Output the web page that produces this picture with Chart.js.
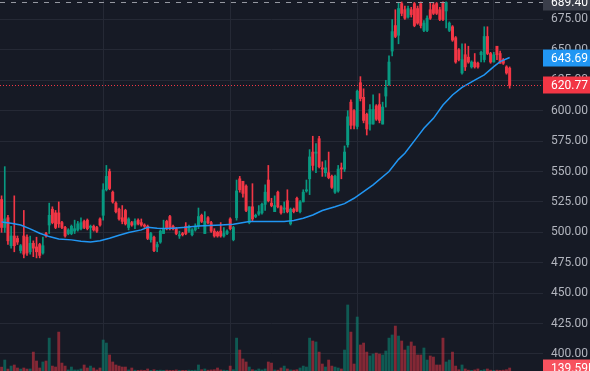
<!DOCTYPE html>
<html>
<head>
<meta charset="utf-8">
<script src="https://cdn.jsdelivr.net/npm/chart.js@4.4.1/dist/chart.umd.min.js"></script>
<style>
html, body { margin: 0; padding: 0; background: #161a25; }
#wrap { width: 590px; height: 371px; position: relative; }
</style>
</head>
<body>
<div id="wrap"><canvas id="c"></canvas></div>
<script>
Chart.defaults.font.family = "Roboto, 'Liberation Sans', sans-serif";
Chart.defaults.color = "#b2b5be";

const UP = "#089981", DOWN = "#f23645";
const UP_VOL = "rgba(8,153,129,0.5)", DOWN_VOL = "rgba(242,54,69,0.5)";
const BG = "#161a25", GRID = "#252935";

// daily candles
const opens = [
  527,504,512,489,497,495,485,497,496,484,491,488,490,483,499,506,519,516,516,508,504,499,
  499,501,502,503,509,510,504,505,504,511,514,535,550,533,524,519,512,518,504,508,506,510,508,506,505,494,496,488,492,499,509,513,505,503,497,499,505,501,498,502,505,
  514,499,512,508,501,500,501,497,499,511,494,512,544,542,538,508,521,513,515,516,523,543,524,517,533,521,519,526,507,519,528,517,525,534,544,566,565,577,553,549,549,546,533,534,553,552,572,
  607,600,587,623,611,597,589,589,604,605,589,612,621,649,670,
  662,688,683,677,683,688,684,688,666,666,683,687,688,683,689,682,666,669,660,650,631,646,644,636,640,639,646,642,661,647,640,653,647,642,636,635
];
const highs = [
  530,554,514,505,530,497,490,518,498,497,493,496,491,496,500,524,521,518,525,509,505,503,
  506,510,509,512,510,511,506,506,505,512,540,555,552,534,525,520,522,519,512,509,511,511,511,507,506,500,497,492,502,510,510,514,506,504,501,500,508,506,503,507,520,
  515,517,513,509,503,501,508,504,502,512,505,543,546,542,539,521,540,515,522,524,539,555,528,530,534,522,525,535,520,520,529,526,535,543,568,579,573,579,558,559,566,547,547,555,557,571,600,
  609,601,617,628,618,598,605,613,605,614,607,625,645,675,683,
  689,689.4,686,686,685,689,686,689.4,674,678,689,689,689,685,689.4,689.4,673,670,661,651,655,655,653,641,647,640,649,669,669,648,648,653,649,643,637,636
];
const lows = [
  500,500,490,487,484,490,483,479,481,482,480,479,479,482,496,499,507,503,504,503,496,498,
  498,499,501,502,503,502,495,501,500,505,510,534,535,524,516,510,507,506,502,505,503,506,505,504,494,492,484,484,491,499,502,502,502,498,495,497,498,500,497,501,503,
  508,499,507,500,496,496,496,496,498,502,493,510,533,529,517,507,509,512,514,515,518,525,521,517,520,515,516,516,506,516,517,516,525,533,531,551,549,553,546,546,544,536,532,533,544,550,570,
  585,585,585,608,590,580,584,589,592,590,589,603,621,645,660,
  655,678,675,676,677,669,671,668,665,665,675,679,679,674,674,668,665,657,639,641,630,633,639,635,635,635,640,640,646,639,640,642,639,638,630,618.5
];
const closes = [
  504,511,493,497,489,492,489,482,483,491,487,484,481,489,497,514,508,504,507,504,497,502,
  505,503,507,508,504,503,505,502,501,506,535,546,536,525,517,511,509,507,511,506,509,507,506,505,495,499,485,490,501,503,503,503,503,499,498,498,499,505,502,505,513,
  509,509,508,501,497,497,497,499,501,503,504,534,535,532,518,521,511,514,517,523,533,526,522,522,521,516,520,517,519,517,518,525,533,535,562,555,566,554,552,553,545,537,546,552,552,566,595,
  588,588,616,610,592,585,601,601,593,592,603,619,640,665,661,
  684,680,676,684,679,670,672,670,672,676,676,680,680,675,675,689,672,658,640,642,642,636,640,640,636,636,648,661,647,640,646,646,639,639,631,620.77
];
// volume in thousands
const volumes = [
  180,510,90,230,280,140,90,140,90,95,880,465,140,420,465,1530,230,185,1810,370,230,50,
  185,50,50,95,280,140,230,140,50,140,1440,1300,745,420,280,230,185,185,50,140,40,30,40,30,95,30,60,30,40,30,40,30,30,50,30,30,30,40,30,40,280,
  60,95,40,50,60,140,50,40,30,230,60,1530,975,560,420,185,60,40,95,50,95,420,370,50,40,140,230,95,50,40,60,140,230,185,1530,1395,1350,880,325,185,510,230,185,140,95,975,3070,
  1810,325,2510,1210,1300,880,700,790,835,790,745,930,1530,1675,2090,
  1625,1395,975,1160,1350,1160,745,745,1070,510,700,650,280,280,1530,420,510,880,230,60,280,95,40,30,50,95,30,60,95,40,30,40,30,40,60,139.59
];
// moving average, read at a few candles
const maIndex = [0,3,6,9,12,15,18,22,25,28,31,34,37,40,44,46,49,52,55,58,62,69,73,78,84,89,92,95,98,101,105,108,111,114,117,122,125,127,131,133,136,139,142,145,149,152,155,157,160];
const maValue = [508.5,507.5,506,502.8,499.3,496.5,494.6,493.8,492.7,492.1,493,495.2,497.6,499.8,502,504.2,503.4,503.1,503.6,504.2,505.3,506.1,506.7,508.9,508.9,509,509.7,511.6,514.3,517.9,521,523.6,528,533.5,539,550,560,565,578.7,585.5,593.7,604.7,612.9,619.2,625.2,629.4,636.2,640.3,643.69];

const priceTicks = [400,425,450,475,500,525,550,575,600,625,650,675];
const monthLines = [32, 72, 112, 155];
const SLOTS = 171;
const highPrice = 689.40, lastPrice = 620.77, maLast = 643.69;
const lastVolume = 139.59, lastVolumeText = "139.59K";

const labels = Array.from({ length: SLOTS }, (_, i) => String(i));
const isUp = closes.map((c, i) => c >= opens[i]);
const bodies = opens.map((o, i) => [o, closes[i]]);
const wicks = lows.map((l, i) => [l, highs[i]]);
const maLine = labels.map(() => null);
maIndex.forEach((k, j) => { maLine[k] = maValue[j]; });

function noPad(s) {
  s.paddingTop = 0; s.paddingBottom = 0; s.paddingLeft = 0; s.paddingRight = 0;
}

function tag(ctx, chart, yPix, text, bg, fg) {
  const left = chart.chartArea.right;
  ctx.fillStyle = bg;
  ctx.fillRect(left, Math.round(yPix) - 8.5, chart.width - left, 17);
  ctx.fillStyle = fg;
  ctx.font = "12px Roboto, 'Liberation Sans', sans-serif";
  ctx.textBaseline = "middle";
  ctx.textAlign = "left";
  ctx.fillText(text, left + 8, Math.round(yPix) + 0.5);
}

const overlay = {
  id: "overlay",
  beforeDraw(chart) {
    const { ctx, width, height } = chart;
    ctx.save();
    ctx.fillStyle = BG;
    ctx.fillRect(0, 0, width, height);
    ctx.restore();
  },
  afterDatasetsDraw(chart) {
    const { ctx, chartArea: a, scales: { y } } = chart;
    ctx.save();
    ctx.lineWidth = 1;
    // session high
    let py = Math.round(y.getPixelForValue(highPrice)) + 0.5;
    ctx.strokeStyle = "#9598a1";
    ctx.setLineDash([5, 6]);
    ctx.beginPath(); ctx.moveTo(a.left, py); ctx.lineTo(a.right, py); ctx.stroke();
    // last price
    py = Math.round(y.getPixelForValue(lastPrice)) + 0.5;
    ctx.strokeStyle = DOWN;
    ctx.setLineDash([1, 2]);
    ctx.beginPath(); ctx.moveTo(a.left, py); ctx.lineTo(a.right, py); ctx.stroke();
    ctx.restore();
  },
  afterDraw(chart) {
    const { ctx, scales: { y, vol } } = chart;
    ctx.save();
    tag(ctx, chart, y.getPixelForValue(highPrice), highPrice.toFixed(2), "#3a3e4a", "#ffffff");
    tag(ctx, chart, y.getPixelForValue(maLast), maLast.toFixed(2), "#2196f3", "#ffffff");
    tag(ctx, chart, y.getPixelForValue(lastPrice), lastPrice.toFixed(2), DOWN, "#ffffff");
    tag(ctx, chart, vol.getPixelForValue(lastVolume), lastVolumeText, "#f7525f", "#ffffff");
    ctx.restore();
  },
};

new Chart(document.getElementById("c"), {
  type: "bar",
  data: {
    labels,
    datasets: [
      { type: "line", label: "MA", data: maLine, borderColor: "#2196f3", borderWidth: 1.5, pointRadius: 0, spanGaps: true, tension: 0, yAxisID: "y", order: 0 },
      { label: "body", data: bodies, backgroundColor: isUp.map((u) => u ? UP : DOWN), barThickness: 2.3, minBarLength: 1, grouped: false, yAxisID: "y", order: 1 },
      { label: "wick", data: wicks, backgroundColor: isUp.map((u) => u ? UP : DOWN), barThickness: 1, grouped: false, yAxisID: "y", order: 2 },
      { label: "volume", data: volumes, backgroundColor: isUp.map((u) => u ? UP_VOL : DOWN_VOL), barThickness: 2.2, grouped: false, yAxisID: "vol", order: 3 },
    ],
  },
  options: {
    responsive: true, maintainAspectRatio: false, animation: false,
    layout: { padding: 0 },
    plugins: { legend: { display: false }, tooltip: { enabled: false } },
    scales: {
      x: {
        type: "category", offset: true,
        afterFit: (s) => { s.height = 0; noPad(s); },
        grid: { offset: false, drawTicks: false, color: (c) => monthLines.includes(c.index) ? GRID : "rgba(0,0,0,0)" },
        border: { display: false },
        ticks: { display: false, autoSkip: false },
      },
      y: {
        position: "right", min: 386, max: 691,
        afterBuildTicks: (s) => { s.ticks = priceTicks.map((v) => ({ value: v })); },
        afterFit: (s) => { s.width = 47; noPad(s); },
        grid: { color: GRID, drawTicks: false },
        border: { display: false },
        ticks: { padding: 8, font: { size: 12 }, color: "#b2b5be", callback: (v) => Number(v).toFixed(2) },
      },
      vol: { display: false, min: 0, max: 17250 },
    },
  },
  plugins: [overlay],
});
</script>
</body>
</html>
